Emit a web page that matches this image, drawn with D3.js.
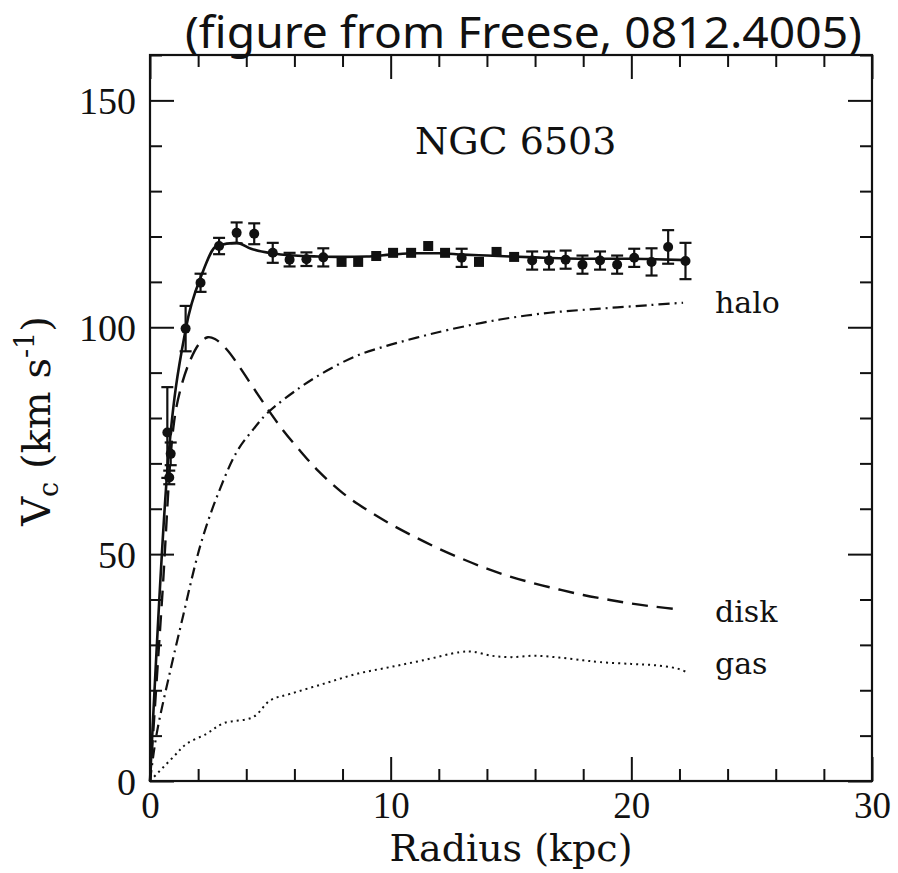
<!DOCTYPE html>
<html>
<head>
<meta charset="utf-8">
<script src="https://cdn.jsdelivr.net/npm/d3@7"></script>
<style>
  html, body { margin: 0; padding: 0; background: #fff; }
  svg { display: block; }
</style>
</head>
<body>
<svg id="chart" width="898" height="873"></svg>
<script>
// ---------------- data ----------------
const titleText = "(figure from Freese, 0812.4005)";
const galaxyName = "NGC 6503";
const xLabel = "Radius (kpc)";
const xTicksMajor = [0, 10, 20, 30];
const yTicksMajor = [0, 50, 100, 150];

// observed rotation curve
const obsR   = [0.72, 0.86, 0.80, 1.48, 2.10, 2.87, 3.60, 4.33, 5.10, 5.80, 6.50, 7.20, 7.96, 8.65, 9.40, 10.10, 10.85, 11.56, 12.26, 12.95, 13.67, 14.40, 15.13, 15.88, 16.58, 17.27, 17.97, 18.70, 19.41, 20.12, 20.84, 21.53, 22.25];
const obsV   = [76.8, 72.1, 66.9, 99.7, 109.8, 117.9, 120.8, 120.6, 116.4, 114.9, 115.0, 115.4, 114.4, 114.4, 115.7, 116.4, 116.4, 117.9, 116.4, 115.3, 114.4, 116.6, 115.5, 114.7, 114.7, 114.9, 113.8, 114.7, 113.8, 115.3, 114.4, 117.7, 114.6];
const obsErr = [10, 2.5, 1.5, 5, 2, 1.8, 2.3, 2.3, 2.2, 1.5, 1.5, 2, 0, 0, 0, 0, 0, 0, 0, 2, 0, 0, 0, 2, 2, 2, 2, 2, 2, 2, 3, 3.7, 4];
const obsShape = ["c","c","c","c","c","c","c","c","c","c","c","c","s","s","s","s","s","s","s","c","s","s","s","c","c","c","c","c","c","c","c","c","c"];

// total model fit
const totalR = [0, 0.7, 1.5, 2.15, 2.77, 3.6, 4.2, 5.05, 6, 7, 8, 9, 10, 11, 12, 13, 14, 15, 16, 17, 18, 19, 20, 21, 22.3];
const totalV = [0, 67, 100, 111.6, 117.9, 118.6, 117.3, 116.3, 115.8, 115.6, 115.5, 115.6, 116, 116.3, 116.3, 116, 115.8, 115.6, 115.4, 115.2, 115.1, 115.1, 115.1, 115, 114.8];

// disk component
const diskR = [0, 0.5, 0.97, 1.25, 1.66, 2.08, 2.4, 2.7, 3.19, 3.74, 4.29, 4.85, 5.5, 6.2, 7, 8, 9, 10, 11, 12, 13, 14, 15, 16, 17, 18, 19, 20, 21, 22];
const diskV = [0, 40, 77.9, 86, 92.6, 96.6, 97.8, 97.4, 95.1, 91.1, 86.7, 82.3, 77.5, 73, 68.3, 63.5, 59.8, 56.6, 53.8, 51.2, 48.9, 46.8, 45, 43.5, 42.2, 41, 40, 39.1, 38.4, 37.8];

// halo component
const haloR = [0, 0.28, 0.83, 1.38, 1.87, 2.21, 2.77, 3.6, 4.29, 4.9, 6.23, 7.34, 8.58, 9.83, 11.08, 12.46, 14.54, 16.6, 18.7, 20.8, 22.15];
const haloV = [0, 10.5, 24, 36.5, 47.5, 54, 62.5, 72.5, 77.5, 81.2, 86.7, 90.4, 93.7, 95.9, 97.7, 99.5, 101.7, 103.2, 104.1, 104.9, 105.4];

// gas component
const gasR = [0, 0.97, 1.52, 2.35, 3.04, 4.29, 5, 5.82, 7.2, 8.58, 9.97, 11.35, 12.88, 13.4, 14.2, 15, 16, 17, 18, 18.7, 20, 21, 21.9, 22.3];
const gasV = [0, 5.3, 8.2, 10.4, 12.7, 14.1, 17.8, 19.2, 21.4, 23.6, 25.1, 26.6, 28.4, 28.5, 27.6, 27.3, 27.6, 27.2, 26.6, 26.2, 25.8, 25.5, 24.8, 24];

const componentLabels = ["halo", "disk", "gas"];

// ---------------- layout ----------------
const L = 150, R = 872, T = 55, B = 781;
const svg = d3.select("#chart");
const x = d3.scaleLinear().domain([0, 30]).range([L, R]);
const y = d3.scaleLinear().domain([0, 160]).range([B, T]);

const ink = "#111";
const serif = "'DejaVu Serif', serif";
const numFont = "'Liberation Serif', 'Times New Roman', serif";

// frame
svg.append("rect").attr("x", L).attr("y", T).attr("width", R - L).attr("height", B - T)
  .attr("fill", "none").attr("stroke", ink).attr("stroke-width", 2.2);

const xMinor = d3.range(0, 30.01, 2).filter(v => v % 10 !== 0);
const yMinor = d3.range(0, 160.01, 10).filter(v => v % 50 !== 0);

function styleAxis(g) {
  g.select(".domain").remove();
  g.selectAll(".tick line").attr("stroke", ink).attr("stroke-width", 2);
}

// bottom
svg.append("g").attr("transform", `translate(0,${B})`)
  .call(d3.axisBottom(x).tickValues(xMinor).tickSize(-12).tickFormat(""))
  .call(styleAxis);
const bx = svg.append("g").attr("transform", `translate(0,${B})`)
  .call(d3.axisBottom(x).tickValues(xTicksMajor).tickSize(-24).tickPadding(0).tickFormat(d3.format("d")))
  .call(styleAxis);
bx.selectAll(".tick text").attr("y", 37).attr("dy", 0)
  .attr("font-family", numFont).attr("font-size", 37).attr("fill", ink);
// top
svg.append("g").attr("transform", `translate(0,${T})`)
  .call(d3.axisTop(x).tickValues(xMinor).tickSize(-12).tickFormat(""))
  .call(styleAxis);
svg.append("g").attr("transform", `translate(0,${T})`)
  .call(d3.axisTop(x).tickValues(xTicksMajor).tickSize(-24).tickFormat(""))
  .call(styleAxis);
// left
svg.append("g").attr("transform", `translate(${L},0)`)
  .call(d3.axisLeft(y).tickValues(yMinor).tickSize(-12).tickFormat(""))
  .call(styleAxis);
const ly = svg.append("g").attr("transform", `translate(${L},0)`)
  .call(d3.axisLeft(y).tickValues(yTicksMajor).tickSize(-24).tickFormat(d3.format("d")))
  .call(styleAxis);
ly.selectAll(".tick text").attr("x", -14).attr("dy", "0.35em")
  .attr("font-family", numFont).attr("font-size", 38).attr("fill", ink);
// right
svg.append("g").attr("transform", `translate(${R},0)`)
  .call(d3.axisRight(y).tickValues(yMinor).tickSize(-12).tickFormat(""))
  .call(styleAxis);
svg.append("g").attr("transform", `translate(${R},0)`)
  .call(d3.axisRight(y).tickValues(yTicksMajor).tickSize(-24).tickFormat(""))
  .call(styleAxis);

// ---------------- curves ----------------
const smooth = d3.line().x(d => x(d[0])).y(d => y(d[1])).curve(d3.curveCatmullRom.alpha(0.5));
const mono = d3.line().x(d => x(d[0])).y(d => y(d[1])).curve(d3.curveMonotoneX);
const zip = (a, b) => a.map((v, i) => [v, b[i]]);

svg.append("path").attr("d", smooth(zip(gasR, gasV)))
  .attr("fill", "none").attr("stroke", ink).attr("stroke-width", 2)
  .attr("stroke-dasharray", "2,4");
svg.append("path").attr("d", smooth(zip(haloR, haloV)))
  .attr("fill", "none").attr("stroke", ink).attr("stroke-width", 2.2)
  .attr("stroke-dasharray", "11,5,2,5");
svg.append("path").attr("d", smooth(zip(diskR, diskV)))
  .attr("fill", "none").attr("stroke", ink).attr("stroke-width", 2.4)
  .attr("stroke-dasharray", "16,9");
svg.append("path").attr("d", mono(zip(totalR, totalV)))
  .attr("fill", "none").attr("stroke", ink).attr("stroke-width", 2.6);

// ---------------- observations ----------------
const obs = obsR.map((r, i) => ({ r, v: obsV[i], e: obsErr[i], s: obsShape[i] }));
const eg = svg.append("g").attr("stroke", ink).attr("stroke-width", 2.2);
obs.filter(d => d.e > 0).forEach(d => {
  const cx = x(d.r), y1 = y(d.v + d.e), y0 = y(d.v - d.e);
  eg.append("line").attr("x1", cx).attr("x2", cx).attr("y1", y1).attr("y2", y0);
  eg.append("line").attr("x1", cx - 6).attr("x2", cx + 6).attr("y1", y1).attr("y2", y1);
  eg.append("line").attr("x1", cx - 6).attr("x2", cx + 6).attr("y1", y0).attr("y2", y0);
});
svg.append("g").selectAll("circle").data(obs.filter(d => d.s === "c")).join("circle")
  .attr("cx", d => x(d.r)).attr("cy", d => y(d.v)).attr("r", 5).attr("fill", ink);
svg.append("g").selectAll("rect").data(obs.filter(d => d.s === "s")).join("rect")
  .attr("x", d => x(d.r) - 5).attr("y", d => y(d.v) - 5)
  .attr("width", 10).attr("height", 10).attr("fill", ink);

// ---------------- text ----------------
const labelBase = [313, 622, 674];
componentLabels.forEach((t, i) => {
  svg.append("text").attr("x", 715).attr("y", labelBase[i])
    .attr("font-family", serif).attr("font-size", 30).attr("fill", ink).text(t);
});

svg.append("text").attr("x", 415).attr("y", 154)
  .attr("font-family", serif).attr("font-size", 38).attr("fill", ink).text(galaxyName);

svg.append("text").attr("x", 511).attr("y", 861).attr("text-anchor", "middle")
  .attr("font-family", serif).attr("font-size", 38).attr("fill", ink).text(xLabel);

const yl = svg.append("text").attr("transform", "translate(50,421) rotate(-90)")
  .attr("text-anchor", "middle").attr("font-family", serif).attr("font-size", 40).attr("fill", ink);
yl.append("tspan").text("V");
yl.append("tspan").attr("font-size", 27).attr("dy", 8).text("c");
yl.append("tspan").attr("dy", -8).text(" (km s");
yl.append("tspan").attr("font-size", 27).attr("dy", -16).text("-1");
yl.append("tspan").attr("dy", 16).text(")");

svg.append("text").attr("x", 185).attr("y", 48)
  .attr("font-family", "'Noto Sans', sans-serif").attr("font-size", 43).attr("fill", ink)
  .attr("textLength", 677).attr("lengthAdjust", "spacingAndGlyphs").text(titleText);
</script>
</body>
</html>
